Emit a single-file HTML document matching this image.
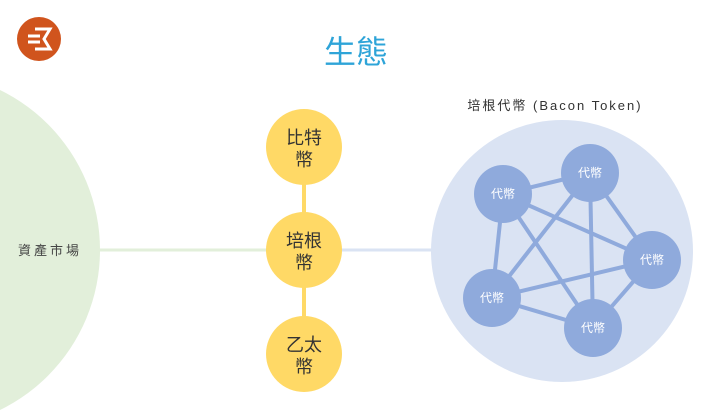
<!DOCTYPE html>
<html><head><meta charset="utf-8"><style>
html,body{margin:0;padding:0;background:#fff;}
svg{display:block;}
text{font-family:"Liberation Sans","Noto Sans CJK TC",sans-serif;}
</style></head><body>
<svg width="728" height="410" viewBox="0 0 728 410" xmlns="http://www.w3.org/2000/svg">
<rect width="728" height="410" fill="#fff"/>
<!-- logo -->
<circle cx="39" cy="39" r="22" fill="#d0541d"/>
<path d="M35 29 H50 L44 39 L50 49 H35" fill="none" stroke="#fff" stroke-width="3"/>
<line x1="28" y1="36" x2="40" y2="36" stroke="#fff" stroke-width="3"/>
<line x1="28" y1="42" x2="40" y2="42" stroke="#fff" stroke-width="3"/>
<text x="356" y="63" font-size="32" fill="#2ea4d8" text-anchor="middle">生態</text>
<!-- green -->
<circle cx="-78" cy="250" r="178" fill="#e2efda"/>
<line x1="100" y1="250" x2="270" y2="250" stroke="#e2efda" stroke-width="3"/>
<text x="50" y="255" font-size="13" fill="#444" text-anchor="middle" letter-spacing="3">資產市場</text>
<!-- blue big -->
<line x1="340" y1="250" x2="435" y2="250" stroke="#dae3f3" stroke-width="3"/>
<circle cx="562" cy="251" r="131" fill="#dae3f3"/>
<text x="555" y="110" font-size="13" fill="#333" text-anchor="middle" letter-spacing="2">培根代幣 (Bacon Token)</text>
<g stroke="#8faadc" stroke-width="4">
<line x1="503" y1="194" x2="590" y2="173"/>
<line x1="503" y1="194" x2="492" y2="298"/>
<line x1="503" y1="194" x2="652" y2="260"/>
<line x1="503" y1="194" x2="593" y2="328"/>
<line x1="590" y1="173" x2="652" y2="260"/>
<line x1="590" y1="173" x2="492" y2="298"/>
<line x1="590" y1="173" x2="593" y2="328"/>
<line x1="652" y1="260" x2="492" y2="298"/>
<line x1="652" y1="260" x2="593" y2="328"/>
<line x1="492" y1="298" x2="593" y2="328"/>
</g>
<g fill="#8faadc">
<circle cx="503" cy="194" r="29"/><circle cx="590" cy="173" r="29"/><circle cx="652" cy="260" r="29"/><circle cx="492" cy="298" r="29"/><circle cx="593" cy="328" r="29"/>
</g>
<g fill="#fff" font-size="12" text-anchor="middle">
<text x="503" y="198">代幣</text><text x="590" y="177">代幣</text><text x="652" y="264">代幣</text><text x="492" y="302">代幣</text><text x="593" y="332">代幣</text>
</g>
<!-- yellow -->
<line x1="304" y1="147" x2="304" y2="354" stroke="#ffd966" stroke-width="4"/>
<g fill="#ffd966"><circle cx="304" cy="147" r="38"/><circle cx="304" cy="250" r="38"/><circle cx="304" cy="354" r="38"/></g>
<g fill="#333" font-size="18" text-anchor="middle">
<text x="304" y="144">比特</text><text x="304" y="166">幣</text>
<text x="304" y="247">培根</text><text x="304" y="269">幣</text>
<text x="304" y="351">乙太</text><text x="304" y="373">幣</text>
</g>
</svg>
</body></html>
